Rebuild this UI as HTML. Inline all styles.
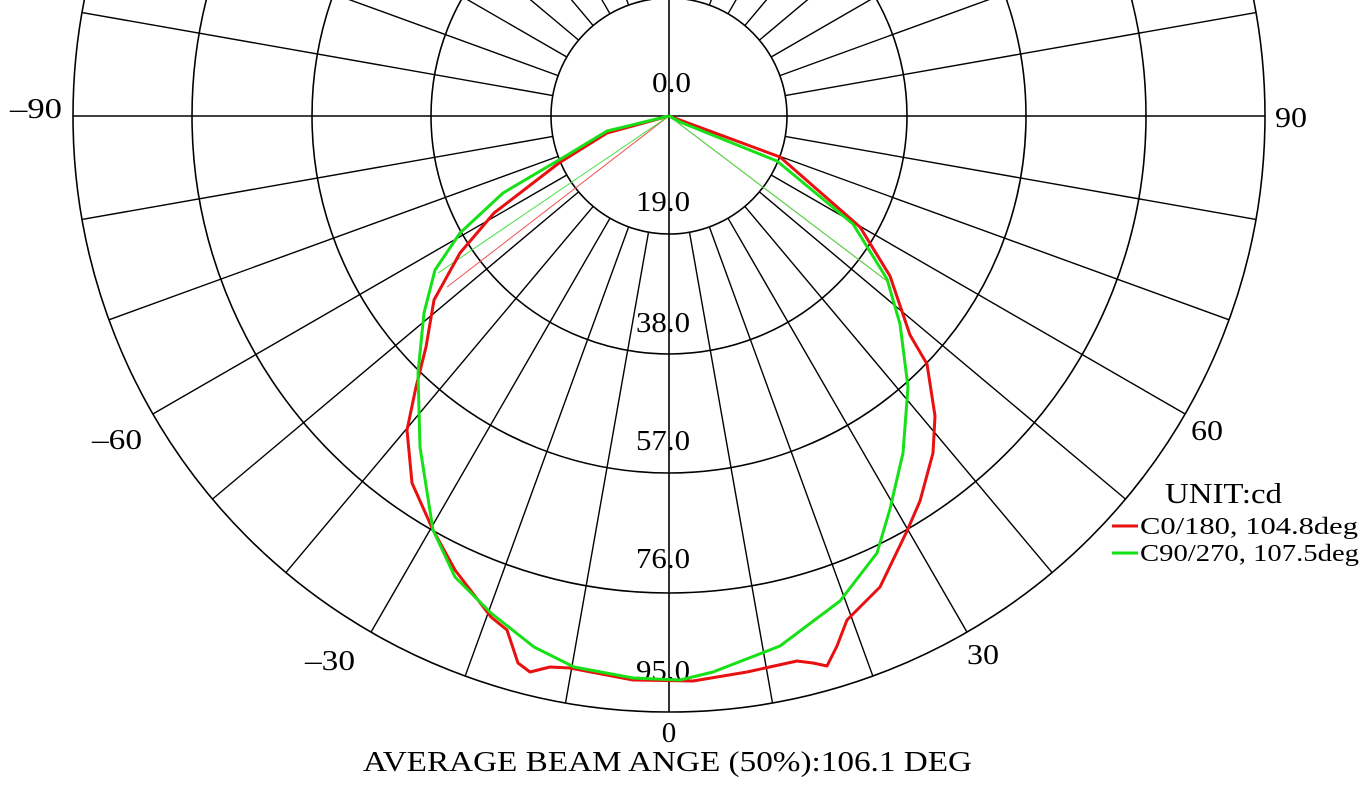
<!DOCTYPE html>
<html><head><meta charset="utf-8"><style>
html,body{margin:0;padding:0;background:#fff;overflow:hidden}
svg{display:block}
text{font-family:"Liberation Serif",serif;fill:#000}
</style></head><body>
<svg width="1360" height="789" viewBox="0 0 1360 789" xmlns="http://www.w3.org/2000/svg">
<g fill="none" stroke="#000" stroke-width="1.6">
<circle cx="669" cy="116" r="118"/>
<circle cx="669" cy="116" r="238"/>
<circle cx="669" cy="116" r="357"/>
<circle cx="669" cy="116" r="477"/>
<circle cx="669" cy="116" r="596"/>
<line x1="73" y1="116" x2="1265" y2="116"/>
<line x1="669" y1="0" x2="669" y2="712"/>
</g>
<g id="spokes" stroke="#000" stroke-width="1.4"></g>
<g font-size="29">
<text x="652" y="92" textLength="39" lengthAdjust="spacingAndGlyphs">0.0</text>
<text x="636" y="211" textLength="54" lengthAdjust="spacingAndGlyphs">19.0</text>
<text x="636" y="332" textLength="54" lengthAdjust="spacingAndGlyphs">38.0</text>
<text x="636" y="450" textLength="54" lengthAdjust="spacingAndGlyphs">57.0</text>
<text x="636" y="568" textLength="54" lengthAdjust="spacingAndGlyphs">76.0</text>
<text x="636" y="680" textLength="54" lengthAdjust="spacingAndGlyphs">95.0</text>
</g>
<g font-size="29">
<text x="10" y="118" textLength="52" lengthAdjust="spacingAndGlyphs">–90</text>
<text x="1275" y="127" textLength="32" lengthAdjust="spacingAndGlyphs">90</text>
<text x="92" y="449" textLength="50" lengthAdjust="spacingAndGlyphs">–60</text>
<text x="1191" y="440" textLength="32" lengthAdjust="spacingAndGlyphs">60</text>
<text x="305" y="670" textLength="50" lengthAdjust="spacingAndGlyphs">–30</text>
<text x="967" y="664" textLength="32" lengthAdjust="spacingAndGlyphs">30</text>
<text x="669" y="742" text-anchor="middle">0</text>
<text x="363" y="771" textLength="609" lengthAdjust="spacingAndGlyphs">AVERAGE BEAM ANGE (50%):106.1 DEG</text>
<text x="1165" y="503" font-size="29" textLength="117" lengthAdjust="spacingAndGlyphs">UNIT:cd</text>
<text x="1140" y="534" font-size="24" textLength="218" lengthAdjust="spacingAndGlyphs">C0/180, 104.8deg</text>
<text x="1140" y="561" font-size="24" textLength="219" lengthAdjust="spacingAndGlyphs">C90/270, 107.5deg</text>
</g>
<line x1="1112" y1="526" x2="1138" y2="526" stroke="#e81010" stroke-width="3"/>
<line x1="1112" y1="553" x2="1138" y2="553" stroke="#10e010" stroke-width="3"/>
<g fill="none" stroke-width="1">
<polyline stroke="#f05050" points="669,116 447,287"/>
<polyline stroke="#f05050" points="669,116 887,281"/>
<polyline stroke="#40e040" points="669,116 438,273"/>
<polyline stroke="#40e040" points="669,116 887,281"/>
</g>
<polyline fill="none" stroke="#e81010" stroke-width="3" stroke-linejoin="round" points="669,116 607,133 559,163 494,213 460,253 434,300 426,347 416,387 407,430 412,483 433,530 455,570 491,617 507,630 518,663 530,672 550,667 570,668 633,680 693,681 747,672 797,661 813,663 827,666 837,646 847,620 880,587 907,531 920,501 933,453 935,416 927,364 910,335 890,276 860,227 780,157 680,120 669,116"/>
<polyline fill="none" stroke="#18e018" stroke-width="3" stroke-linejoin="round" points="669,116 607,131 564,157 503,193 460,233 435,270 424,313 418,373 420,447 433,530 455,577 491,613 534,647 574,667 633,678 680,680 713,672 780,646 840,601 877,553 890,509 903,453 908,387 900,324 887,279 853,224 777,161 680,122 669,116"/>
<script>
(function(){var g=document.getElementById('spokes'),ns='http://www.w3.org/2000/svg';
for(var a=0;a<360;a+=10){if(a%90==0)continue;var r=a*Math.PI/180,s=Math.sin(r),c=Math.cos(r);
var l=document.createElementNS(ns,'line');l.setAttribute('x1',669+118*s);l.setAttribute('y1',116+118*c);
l.setAttribute('x2',669+596*s);l.setAttribute('y2',116+596*c);g.appendChild(l);}})();
</script>
</svg>
</body></html>
